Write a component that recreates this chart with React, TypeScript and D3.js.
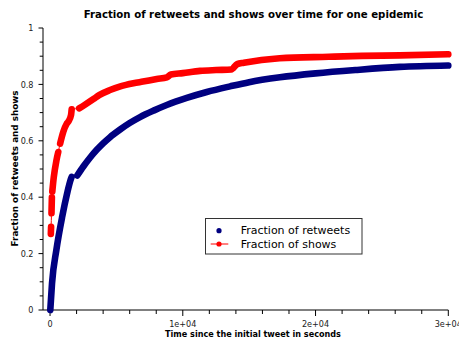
import * as d3 from "d3"

// seconds since the initial tweet / fraction
const retweetTime = [20, 150, 477, 917, 1290, 1545, 1630, 2050, 2510, 3010, 3520, 4000, 4500, 5280, 6000, 6780, 7800, 8790, 10300, 11810, 13560, 15000, 17320, 20000, 23000, 26350, 30000];
const retweetFraction = [0, 0.095, 0.213, 0.331, 0.414, 0.461, 0.472, 0.477, 0.509, 0.54, 0.568, 0.591, 0.612, 0.64, 0.663, 0.684, 0.707, 0.727, 0.752, 0.773, 0.793, 0.808, 0.825, 0.839, 0.851, 0.862, 0.867];
const retweetRunStarts = [0, 7];

const showTime = [60, 80, 110, 140, 170, 280, 480, 620, 760, 1000, 1250, 1380, 1580, 1630, 2190, 2600, 3270, 3700, 4520, 5300, 6280, 7000, 8040, 8800, 9100, 10000, 11300, 12500, 13650, 14100, 14600, 17300, 21000, 23500, 26350, 30000];
const showFraction = [0.27, 0.295, 0.343, 0.4, 0.42, 0.47, 0.53, 0.56, 0.59, 0.632, 0.66, 0.668, 0.691, 0.712, 0.715, 0.727, 0.748, 0.762, 0.78, 0.793, 0.804, 0.81, 0.819, 0.825, 0.835, 0.84, 0.848, 0.851, 0.853, 0.872, 0.877, 0.893, 0.898, 0.901, 0.903, 0.907];
const showRunStarts = [0, 2, 4, 8, 14];

const xMajorTicks = [0, 10000, 20000, 30000];
const xTickLabels = ["0", "1e+04", "2e+04", "3e+04"];
const yMajorTicks = [0, 0.2, 0.4, 0.6, 0.8, 1];
const yTickLabels = ["0", "0.2", "0.4", "0.6", "0.8", "1"];
const seriesNames = ["Fraction of retweets", "Fraction of shows"];

const W = 459;
const H = 343;
const BLUE = "#000080";
const RED = "#ff0000";

function splitRuns(t: number[], f: number[], starts: number[]) {
  const pts = t.map((v, i) => [v, f[i]] as [number, number]);
  return starts.map((s, i) => pts.slice(s, i + 1 < starts.length ? starts[i + 1] : pts.length));
}

export default function App() {
  const x = d3.scaleLinear().domain([-530, 30000]).range([43, 448.3]);
  const y = d3.scaleLinear().domain([0, 1]).range([310, 28]);

  const line = d3.line<[number, number]>()
    .x(d => x(d[0]))
    .y(d => y(d[1]))
    .curve(d3.curveMonotoneX);

  const retweetRuns = splitRuns(retweetTime, retweetFraction, retweetRunStarts);
  const showRuns = splitRuns(showTime, showFraction, showRunStarts);
  const showAll = showTime.map((v, i) => [v, showFraction[i]] as [number, number]);

  const xMinor = d3.range(0, 30001, 2000).filter(v => !xMajorTicks.includes(v));
  const yMinor = d3.range(0, 21).map(i => i * 0.05).filter(v => !yMajorTicks.some(m => Math.abs(m - v) < 1e-6));

  const tickFont = "'DejaVu Sans Condensed', 'DejaVu Sans', sans-serif";

  return (
    <div style={{ position: "fixed", left: 0, top: 0 }}>
      <svg width={W} height={H} style={{ display: "block", background: "#fff" }}>
        <text x={253.5} y={18.3} textAnchor="middle" fontFamily="'DejaVu Sans', sans-serif"
          fontWeight="bold" fontSize={10.2} fill="#000">
          Fraction of retweets and shows over time for one epidemic
        </text>

        {/* axes */}
        <line x1={43} x2={448.3} y1={310} y2={310} stroke="#000" strokeWidth={1} />
        <line x1={43} x2={43} y1={310} y2={28} stroke="#000" strokeWidth={1} />

        {xMajorTicks.map((v, i) => (
          <g key={"xm" + v}>
            <line x1={x(v)} x2={x(v)} y1={310} y2={316} stroke="#000" />
            <text x={x(v)} y={327.3} textAnchor="middle" fontFamily={tickFont} fontSize={9} fill="#222">
              {xTickLabels[i]}
            </text>
          </g>
        ))}
        {xMinor.map(v => (
          <line key={"xn" + v} x1={x(v)} x2={x(v)} y1={310} y2={314} stroke="#000" />
        ))}
        {yMajorTicks.map((v, i) => (
          <g key={"ym" + v}>
            <line x1={38.5} x2={43} y1={y(v)} y2={y(v)} stroke="#000" />
            <text x={33.5} y={y(v)} dy="0.35em" textAnchor="end" fontFamily={tickFont} fontSize={9} fill="#222">
              {yTickLabels[i]}
            </text>
          </g>
        ))}
        {yMinor.map(v => (
          <line key={"yn" + v} x1={39.7} x2={43} y1={y(v)} y2={y(v)} stroke="#000" />
        ))}

        <text x={253} y={337} textAnchor="middle" fontFamily="'DejaVu Sans', sans-serif"
          fontWeight="bold" fontSize={8.1} fill="#000">
          Time since the initial tweet in seconds
        </text>
        <text transform="translate(18.3,168.4) rotate(-90)" textAnchor="middle"
          fontFamily="'DejaVu Sans', sans-serif" fontWeight="bold" fontSize={8.8} fill="#000">
          Fraction of retweets and shows
        </text>

        {/* retweets: dense dots, drawn as a thick band */}
        {retweetRuns.map((run, i) => (
          <path key={"r" + i} d={line(run) || ""} fill="none" stroke={BLUE} strokeWidth={6.6}
            strokeLinecap="round" strokeLinejoin="round" />
        ))}

        {/* shows: thin connecting line plus dense dots */}
        <path d={line(showAll) || ""} fill="none" stroke={RED} strokeWidth={1} />
        {showRuns.map((run, i) => (
          <path key={"s" + i} d={line(run) || ""} fill="none" stroke={RED} strokeWidth={6.6}
            strokeLinecap="round" strokeLinejoin="round" />
        ))}

        {/* legend */}
        <rect x={205.5} y={218.5} width={156.5} height={35.5} fill="#fff" stroke="#333" strokeWidth={1} />
        <circle cx={219} cy={230.7} r={2.6} fill={BLUE} />
        <line x1={210.7} x2={228.3} y1={244} y2={244} stroke={RED} strokeWidth={1} />
        <circle cx={219} cy={244} r={2.6} fill={RED} />
        <text x={240.7} y={234} fontFamily="'DejaVu Sans', sans-serif" fontSize={11} fill="#000">
          {seriesNames[0]}
        </text>
        <text x={240.7} y={248.3} fontFamily="'DejaVu Sans', sans-serif" fontSize={11} fill="#000">
          {seriesNames[1]}
        </text>
      </svg>
    </div>
  );
}
